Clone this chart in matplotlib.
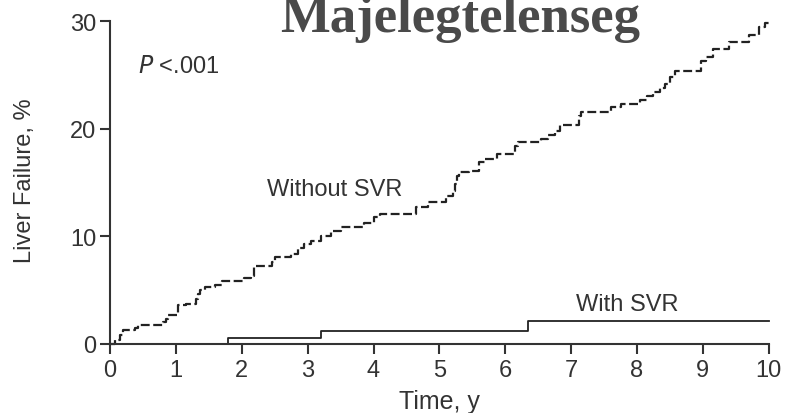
import numpy as np
import matplotlib
matplotlib.use("Agg")
import matplotlib.pyplot as plt

# Kaplan-Meier style cumulative liver failure (%)
without_t = [0, 0.08, 0.15, 0.2, 0.38, 0.42, 0.8, 0.85, 0.88, 1.03,
             1.15, 1.3, 1.33, 1.37, 1.44, 1.6, 1.7, 2.03, 2.14, 2.18,
             2.46, 2.5, 2.75, 2.85, 2.95, 3.05, 3.2, 3.35, 3.5, 3.85,
             4.0, 4.1, 4.65, 4.83, 5.1, 5.2, 5.23, 5.27, 5.3, 5.45,
             5.6, 5.7, 5.87, 6.15, 6.2, 6.55, 6.65, 6.75, 6.83, 7.12,
             7.15, 7.6, 7.75, 8.05, 8.15, 8.25, 8.35, 8.42, 8.5, 8.57,
             8.97, 9.05, 9.15, 9.4, 9.7, 9.86, 9.95, 10.0]
without_v = [0, 0.4, 0.8, 1.3, 1.5, 1.8, 2.0, 2.3, 2.7, 3.6,
             3.7, 4.2, 4.65, 5.0, 5.3, 5.5, 5.9, 6.1, 6.3, 7.3,
             7.6, 8.1, 8.4, 8.9, 9.3, 9.6, 10.0, 10.5, 10.9, 11.3,
             11.8, 12.1, 12.7, 13.2, 13.8, 14.2, 14.9, 15.6, 16.0, 16.1,
             16.9, 17.2, 17.7, 18.4, 18.8, 19.1, 19.4, 19.8, 20.4, 21.2,
             21.6, 22.0, 22.3, 22.7, 23.1, 23.4, 23.8, 24.2, 24.8, 25.4,
             26.3, 26.7, 27.4, 28.1, 28.7, 29.5, 29.9, 29.9]

with_t = [0, 1.79, 3.2, 6.34, 10.0]
with_v = [0, 0.6, 1.25, 2.1, 2.1]

x_ticks = list(range(0, 11))
y_ticks = [0, 10, 20, 30]

ink = "#333333"
sans = "Liberation Sans"

fig = plt.figure(figsize=(7.86, 4.14), dpi=100)
ax = fig.add_axes([0.140, 0.1667, 0.838, 0.779])

ax.plot(without_t, without_v, drawstyle="steps-post", color="#222222",
        lw=1.6, linestyle=(0, (4, 1.6)), clip_on=False)
ax.plot(with_t, with_v, drawstyle="steps-post", color="#222222",
        lw=1.3, clip_on=False)

ax.set_xlim(0, 10)
ax.set_ylim(0, 30)
ax.set_xticks(x_ticks)
ax.set_yticks(y_ticks)

for side in ["top", "right"]:
    ax.spines[side].set_visible(False)
for side in ["left", "bottom"]:
    ax.spines[side].set_color(ink)
    ax.spines[side].set_linewidth(1.5)

ax.tick_params(direction="out", length=7, width=1.5, color=ink,
               labelcolor=ink, labelsize=17)
ax.tick_params(axis="x", pad=4)
ax.tick_params(axis="y", pad=3)
for lab in ax.get_xticklabels() + ax.get_yticklabels():
    lab.set_family(sans)

ax.set_xlabel("Time, y", fontsize=18, color=ink, family=sans)
ax.set_ylabel("Liver Failure, %", fontsize=17, color=ink, family=sans)
ax.xaxis.set_label_coords(0.5, -0.14)
ax.yaxis.set_label_coords(-0.112, 0.508)

ax.text(0.42, 25.9, r"$\it{P}$" + " <.001", fontsize=17, color=ink,
        family=sans, va="center", ha="left")
ax.text(3.41, 14.4, "Without SVR", fontsize=17, color=ink,
        family=sans, va="center", ha="center")
ax.text(7.85, 3.7, "With SVR", fontsize=17, color=ink,
        family=sans, va="center", ha="center")

fig.text(0.585, 0.922, "Majelegtelenseg", fontsize=38, fontweight="bold",
         family="Liberation Serif", color="#4a4a4a", ha="center", va="baseline")

fig.savefig("out.png", dpi=100)
